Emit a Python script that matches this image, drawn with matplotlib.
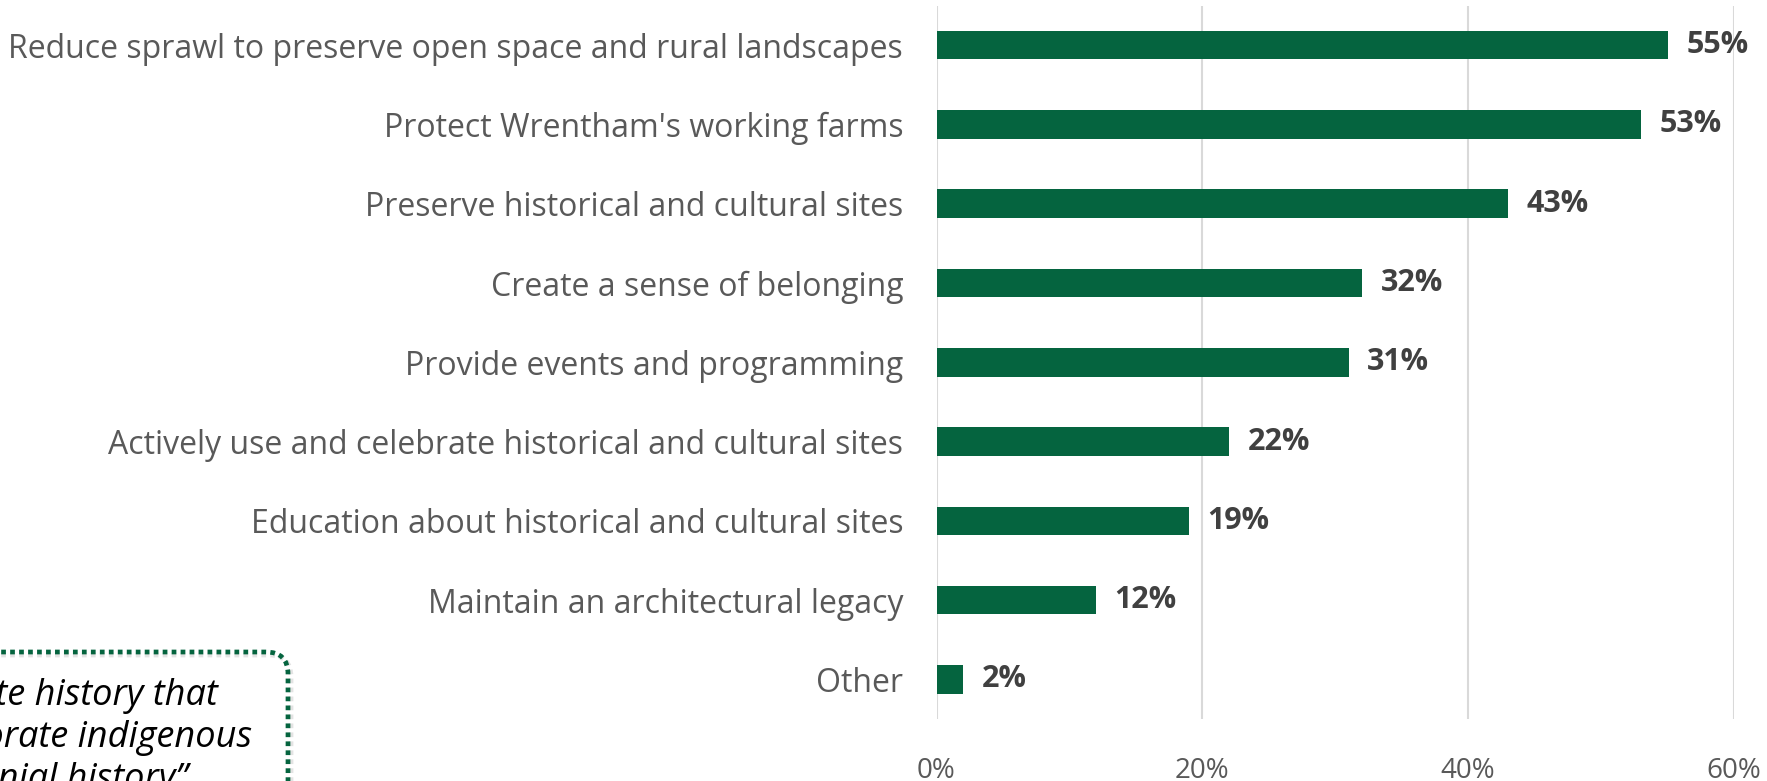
import matplotlib.pyplot as plt
from matplotlib.patches import FancyBboxPatch

plt.rcParams['font.family'] = ['Open Sans', 'DejaVu Sans']

categories = [
    "Reduce sprawl to preserve open space and rural landscapes",
    "Protect Wrentham's working farms",
    "Preserve historical and cultural sites",
    "Create a sense of belonging",
    "Provide events and programming",
    "Actively use and celebrate historical and cultural sites",
    "Education about historical and cultural sites",
    "Maintain an architectural legacy",
    "Other",
]
values = [55, 53, 43, 32, 31, 22, 19, 12, 2]
xticks = [0, 20, 40, 60]
quote_lines = ["\u201cCelebrate history that",
               "and incorporate indigenous",
               "and colonial history\u201d"]

W, H = 1767, 781
fig = plt.figure(figsize=(W / 100, H / 100), dpi=100)
ax = fig.add_axes([936.5 / W, 1 - 719 / H, (1734 - 936.5) / W, (719 - 5.5) / H])

green = '#05643f'
ypos = list(range(len(categories)))
ax.barh(ypos, values, height=0.36, color=green, zorder=3)
for y, v in zip(ypos, values):
    ax.text(v + 1.4, y, f"{v}%", va='center', ha='left', fontsize=22,
            fontweight='bold', color='#404040')

ax.set_ylim(len(categories) - 0.5, -0.5)
ax.set_xlim(0, 60)
ax.set_yticks(ypos)
ax.set_yticklabels(categories, fontsize=23, color='#595959')
ax.set_xticks(xticks)
ax.set_xticklabels([f"{t}%" for t in xticks], fontsize=20, color='#595959')
ax.tick_params(axis='y', length=0, pad=24)
ax.tick_params(axis='x', length=0, pad=27)
ax.xaxis.grid(True, color='#d9d9d9', linewidth=1.5, zorder=0)
for s in ax.spines.values():
    s.set_visible(False)

# callout box, cropped at the left and bottom edges
box_shadow = FancyBboxPatch((-200, -200), 200 + 291, 200 + (H - 655),
                            boxstyle="round,pad=0,rounding_size=22",
                            transform=None, fill=False, edgecolor='#e3e3e3',
                            linewidth=3.4, linestyle=(0, (1, 0.9)))
box = FancyBboxPatch((-200, -200), 200 + 288, 200 + (H - 652),
                     boxstyle="round,pad=0,rounding_size=22",
                     transform=None, fill=False, edgecolor=green,
                     linewidth=3.4, linestyle=(0, (1, 0.9)), capstyle='butt')
fig.patches.extend([box_shadow, box])

rights = [218, 252, 188]
bases = [705, 747, 789]
for line, xr, yb in zip(quote_lines, rights, bases):
    fig.text(xr / W, 1 - yb / H, line, ha='right', va='baseline',
             fontsize=26, style='italic', color='black')

fig.savefig('out.png', dpi=100)
